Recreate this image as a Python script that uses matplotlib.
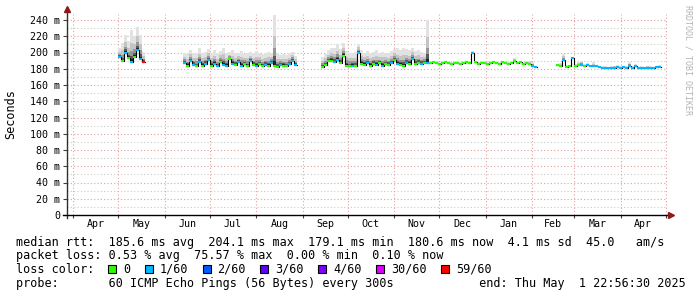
import datetime as dt
import numpy as np
import matplotlib
matplotlib.use("Agg")
import matplotlib.pyplot as plt
import matplotlib.dates as mdates
from matplotlib.lines import Line2D
from matplotlib.patches import Rectangle

# ---- data (one sample = 2 days) ----
seg_starts = [dt.datetime(2024, 5, 1), dt.datetime(2024, 6, 13),
              dt.datetime(2024, 9, 13), dt.datetime(2025, 2, 17)]

# median rtt in ms
med1 = [194, 189, 200, 193, 188, 195, 203, 192, 188]
med2 = [187, 184, 190, 185, 183, 188, 184, 186, 191, 184, 186, 183, 188, 185, 184, 192, 186, 185, 188,
        184, 186, 183, 189, 185, 184, 186, 183, 185, 184, 187, 183, 182, 185, 184, 183, 186, 190, 185]
med3 = [182.5, 185, 189, 190, 188, 191, 187, 196, 184, 183, 184, 183, 199, 186, 185, 187, 184, 186,
        185, 187, 184, 186, 185, 187, 191, 186, 185, 184, 187, 186, 192, 186, 187, 186, 187, 187,
        187, 188, 187, 186, 187, 188, 187, 186, 187, 187, 186, 187, 188, 187, 200, 188, 186, 187,
        187, 186, 187, 188, 187, 186, 188, 187, 186, 187, 190, 187, 188, 186, 187, 186, 184, 182]
med4 = [184.5, 184, 191, 182.5, 183, 193, 184, 185, 185, 184, 185, 183, 183.5, 183, 182, 181, 181, 180.5,
        181, 181.5, 182, 181, 182, 181, 184, 181, 183, 180.5, 181, 180.5, 181, 181.5, 180.5, 182, 182]

# top of the smoke (slowest ping) in ms
top1 = [206, 212, 221, 214, 228, 220, 231, 222, 201]
top2 = [200, 198, 203, 199, 200, 205, 199, 201, 204, 200, 203, 199, 202, 206, 200, 201, 203, 199, 200,
        202, 198, 200, 201, 199, 202, 200, 198, 199, 201, 200, 246, 199, 197, 198, 197, 199, 201, 196]
top3 = [195, 198, 203, 206, 205, 210, 204, 212, 202, 200, 199, 201, 211, 203, 200, 202, 200, 201,
        203, 199, 201, 200, 199, 202, 204, 205, 203, 205, 204, 203, 206, 202, 203, 201, 200, 240,
        189, 190, 189, 188, 189, 190, 189, 188, 189, 189, 188, 189, 190, 189, 202, 190, 188, 189,
        189, 188, 189, 190, 189, 188, 190, 189, 188, 189, 193, 189, 190, 188, 190, 189, 188, 184]
top4 = [186, 187, 198, 185, 185, 195, 186, 188, 190, 186, 187, 185, 188, 185, 184, 183, 183, 182.5,
        183, 184, 185, 183, 184, 183, 188, 183, 186, 182.5, 183, 182.5, 184, 183.5, 182.5, 183, 185]

# loss class index per sample (0 = no loss ... 6 = 59/60)
loss1 = [1, 0, 1, 0, 1, 0, 1, 1, 6]
loss2 = [1, 0, 1, 1, 0, 1, 0, 1, 1, 0, 1, 1, 0, 1, 1, 0, 1, 0, 1,
         1, 0, 0, 1, 0, 1, 0, 0, 1, 0, 1, 0, 0, 1, 0, 0, 1, 1, 1]
loss3 = [0, 0, 0, 0, 1, 1, 0, 0, 0, 0, 1, 0, 1, 0, 0, 1, 0, 0,
         1, 0, 1, 0, 0, 1, 0, 1, 0, 0, 1, 0, 1, 0, 0, 1, 0, 1,
         0, 0, 0, 0, 0, 0, 0, 0, 0, 0, 0, 0, 0, 0, 1, 0, 0, 0,
         0, 0, 0, 0, 0, 0, 0, 0, 0, 0, 0, 0, 0, 0, 0, 0, 1, 1]
loss4 = [0, 0, 1, 0, 0, 1, 0, 0, 1, 0, 1, 1, 1, 1, 1, 1, 1, 1,
         1, 1, 1, 1, 1, 1, 1, 1, 1, 1, 1, 1, 1, 1, 1, 1, 1]

loss_labels = ["0", "1/60", "2/60", "3/60", "4/60", "30/60", "59/60"]
loss_colors = ["#26ff00", "#00b8ff", "#0059ff", "#5e00ff", "#7e00ff", "#dd00ff", "#ff0000"]

y_ticks = list(range(0, 241, 20))
y_ticklabels = ["0"] + [f"{v} m" for v in range(20, 241, 20)]

legend_lines = [
    "median rtt:  185.6 ms avg  204.1 ms max  179.1 ms min  180.6 ms now  4.1 ms sd  45.0   am/s",
    "packet loss: 0.53 % avg  75.57 % max  0.00 % min  0.10 % now",
    "loss color:",
    "probe:       60 ICMP Echo Pings (56 Bytes) every 300s            end: Thu May  1 22:56:30 2025",
]

# ---- figure ----
W, H = 697, 297
def fx(px): return px / W
def fy(py): return 1 - py / H

plt.rcParams["font.family"] = "DejaVu Sans Mono"
t_start = dt.datetime(2024, 3, 27, 22, 56, 30)
t_end = dt.datetime(2025, 5, 1, 22, 56, 30)

fig = plt.figure(figsize=(W / 100, H / 100), dpi=100)
ax = fig.add_axes([fx(67), fy(215), 600 / W, (215 - 13.5) / H])
ax.set_xlim(mdates.date2num(t_start), mdates.date2num(t_end))
ax.set_ylim(0, 248)
for s in ax.spines.values():
    s.set_visible(False)

month_starts = [dt.datetime(2024, m, 1) for m in range(4, 13)] + [dt.datetime(2025, m, 1) for m in range(1, 6)]
ms = mdates.date2num(month_starts)
ax.set_xticks((ms[:-1] + ms[1:]) / 2)
ax.set_xticklabels([d.strftime("%b") for d in month_starts[:-1]])
ax.set_xticks(ms, minor=True)
ax.set_yticks(y_ticks)
ax.set_yticklabels(y_ticklabels)

ax.tick_params(axis="y", which="major", length=3, width=0.8, color="#404040", pad=2, labelsize=7.2)
ax.tick_params(axis="x", which="major", length=0, pad=3, labelsize=7.2)
ax.tick_params(axis="x", which="minor", length=2, width=0.8, color="#404040")

# grid, rrdtool style
dots = (0, (1, 2))
for v in range(10, 241, 20):
    ax.axhline(v, color="#c8c8c8", lw=0.8, ls=dots, zorder=0)
for v in range(20, 241, 20):
    ax.axhline(v, color="#e3a0a0", lw=0.8, ls=dots, zorder=0)
for m in ms:
    ax.axvline(m, color="#e3a0a0", lw=0.8, ls=dots, zorder=0)

# smoke + median
fracs = [1.0, 0.6, 0.35, 0.2, 0.1]
greys = ["#e2e2e2", "#c4c4c4", "#969696", "#5a5a5a", "#202020"]
segments = [(med1, top1, loss1), (med2, top2, loss2), (med3, top3, loss3), (med4, top4, loss4)]
for start, (med, top, loss) in zip(seg_starts, segments):
    x = mdates.date2num(start) + 2 * np.arange(len(med) + 1)
    m = np.append(med, med[-1]).astype(float)
    tp = np.append(top, top[-1]).astype(float)
    for f, g in zip(fracs, greys):
        ax.fill_between(x, m, m + (tp - m) * f, step="post", color=g, lw=0, zorder=2)
    ax.step(x, m, where="post", color="black", lw=0.8, zorder=3)
    ax.hlines(med, x[:-1], x[1:], colors=[loss_colors[k] for k in loss], lw=1.5, zorder=4)

# axes with arrows
fig.add_artist(Line2D([fx(67), fx(67)], [fy(218), fy(10)], color="#303030", lw=1))
fig.add_artist(Line2D([fx(63), fx(670)], [fy(215), fy(215)], color="black", lw=1))
fig.add_artist(Line2D([fx(67)], [fy(9)], marker="^", ms=4, color="#8b1a1a", lw=0))
fig.add_artist(Line2D([fx(671)], [fy(215)], marker=">", ms=4, color="#8b1a1a", lw=0))

fig.text(fx(11), fy(114), "Seconds", rotation=90, ha="center", va="center", fontsize=8.5)
fig.text(fx(688), fy(5), "RRDTOOL / TOBI OETIKER", rotation=270, ha="center", va="top",
         fontsize=6, color="#b4b4b4")

# legend block
baselines = [246, 259.5, 273, 286.5]
for line, yb in zip(legend_lines, baselines):
    fig.text(fx(16), fy(yb), line, ha="left", va="baseline", fontsize=8.5)

sq_x = 108
for lab, col in zip(loss_labels, loss_colors):
    fig.add_artist(Rectangle((fx(sq_x), fy(273)), 8 / W, 8 / H, transform=fig.transFigure,
                             facecolor=col, edgecolor="black", lw=0.8))
    fig.text(fx(sq_x + 15), fy(273), lab, ha="left", va="baseline", fontsize=8.5)
    sq_x += 15 + len(lab) * 7.1 + 14.5

fig.savefig("out.png", dpi=100)
